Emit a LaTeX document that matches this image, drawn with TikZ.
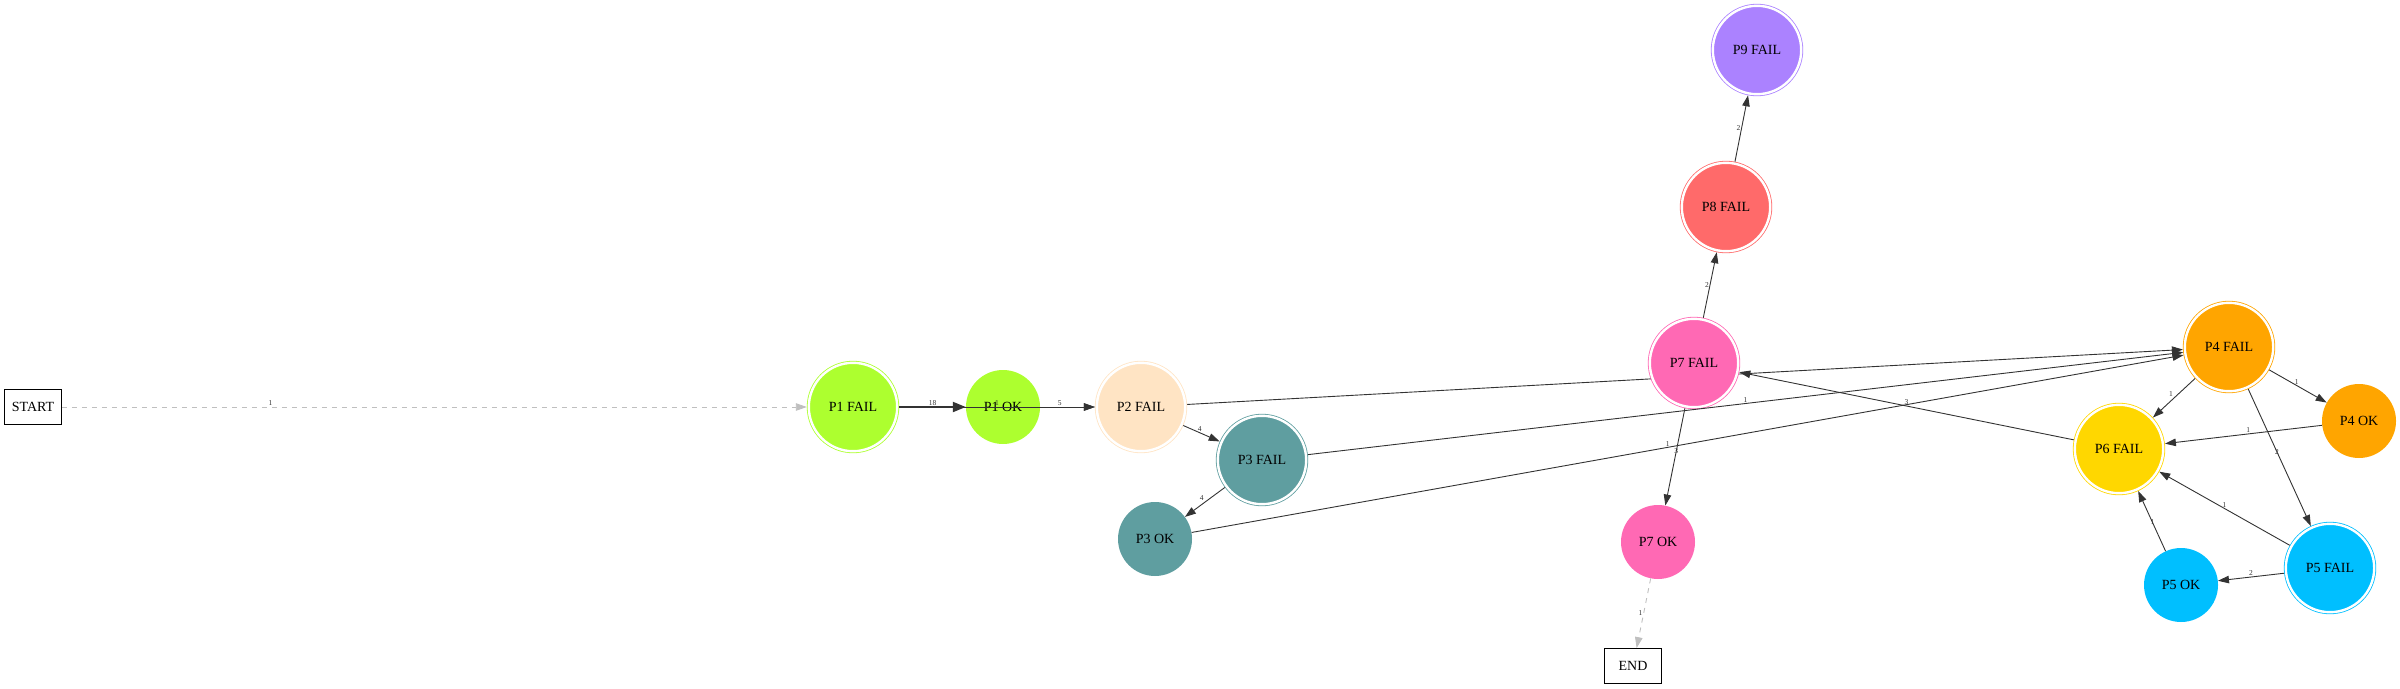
\documentclass[tikz,border=0pt]{standalone}
\usepackage{fontspec}
\setmainfont{Liberation Serif}
\usetikzlibrary{arrows.meta,backgrounds}

\definecolor{p1col}{HTML}{ADFF2F}
\definecolor{p2col}{HTML}{FFE4C4}
\definecolor{p3col}{HTML}{5F9EA0}
\definecolor{p4col}{HTML}{FFA500}
\definecolor{p5col}{HTML}{00BFFF}
\definecolor{p6col}{HTML}{FFD700}
\definecolor{p7col}{HTML}{FF69B4}
\definecolor{p8col}{HTML}{FF6A6A}
\definecolor{p9col}{HTML}{AB82FF}

\tikzset{
  state/.style={circle, inner sep=0pt, font=\fontsize{14}{16}\selectfont},
  fail state/.style={state, minimum size=88.4pt, line width=0.8pt,
    double=white, double distance=2.4pt, outer sep=2pt},
  ok state/.style={state, minimum size=74pt},
  term/.style={draw, rectangle, line width=0.8pt, minimum width=57pt,
    minimum height=35pt, font=\fontsize{14}{16}\selectfont},
  edge/.style={->, draw=black!80, line width=0.9pt},
  heavy edge/.style={-{Triangle[length=13pt,width=10pt]}, draw=black!80, line width=2pt},
  end edge/.style={->, draw=black!25, dash pattern=on 5pt off 5pt, line width=0.9pt},
  elabel/.style={font=\fontsize{7.5}{8}\selectfont, text=black!80, inner sep=0.8pt}
}

\begin{document}
\begin{tikzpicture}[x=1pt, y=-1pt, >={Triangle[length=11pt,width=7.5pt]}]

\useasboundingbox (0,0) rectangle (2400,688);

\node [term] (start) at (33,407) {START};
\node [term] (end) at (1633,666) {END};

\foreach \n/\c/\x/\y/\t in {p1-fail/p1col/853/407/P1 FAIL, p2-fail/p2col/1141/407/P2 FAIL,
    p3-fail/p3col/1262/460/P3 FAIL, p4-fail/p4col/2229/347/P4 FAIL,
    p5-fail/p5col/2330/568/P5 FAIL, p6-fail/p6col/2119/449/P6 FAIL,
    p7-fail/p7col/1694/363/P7 FAIL, p8-fail/p8col/1726/207/P8 FAIL,
    p9-fail/p9col/1757/50/P9 FAIL}
  \node [fail state, fill=\c, draw=\c] (\n) at (\x,\y) {\t};

\foreach \n/\c/\x/\y/\t in {p1-ok/p1col/1003/407/P1 OK, p3-ok/p3col/1155/539/P3 OK,
    p4-ok/p4col/2359/421/P4 OK, p5-ok/p5col/2181/585/P5 OK,
    p7-ok/p7col/1658/542/P7 OK}
  \node [ok state, fill=\c] (\n) at (\x,\y) {\t};

% runs under P7 FAIL
\begin{scope}[on background layer]
  \draw [edge] (p2-fail) -- (p4-fail);
\end{scope}

\draw [end edge] (start) -- (p1-fail)
  node [elabel, pos=0.28, anchor=south] {1};
\draw [heavy edge] (p1-fail) -- (p1-ok)
  node [elabel, midway, anchor=south] {18};

\foreach \a/\b/\l/\p/\s in {p1-fail/p2-fail/1/0.5/south, p1-ok/p2-fail/5/0.36/south,
    p2-fail/p3-fail/4/0.45/south, p3-fail/p3-ok/4/0.5/south east,
    p3-fail/p4-fail/1/0.5/south, p3-ok/p4-fail/1/0.48/south,
    p6-fail/p7-fail/3/0.5/south, p7-fail/p7-ok/3/0.44/center,
    p7-fail/p8-fail/2/0.5/east, p8-fail/p9-fail/2/0.5/east,
    p4-fail/p6-fail/1/0.5/south east, p4-fail/p4-ok/1/0.48/south,
    p4-fail/p5-fail/2/0.46/center, p4-ok/p6-fail/1/0.47/south,
    p5-fail/p6-fail/1/0.5/south, p5-ok/p6-fail/1/0.48/center,
    p5-fail/p5-ok/2/0.5/south}
  \draw [edge] (\a) -- (\b) node [elabel, pos=\p, anchor=\s] {\l};

\draw [end edge] (p7-ok) -- (end)
  node [elabel, midway, anchor=east] {1};

\end{tikzpicture}
\end{document}
